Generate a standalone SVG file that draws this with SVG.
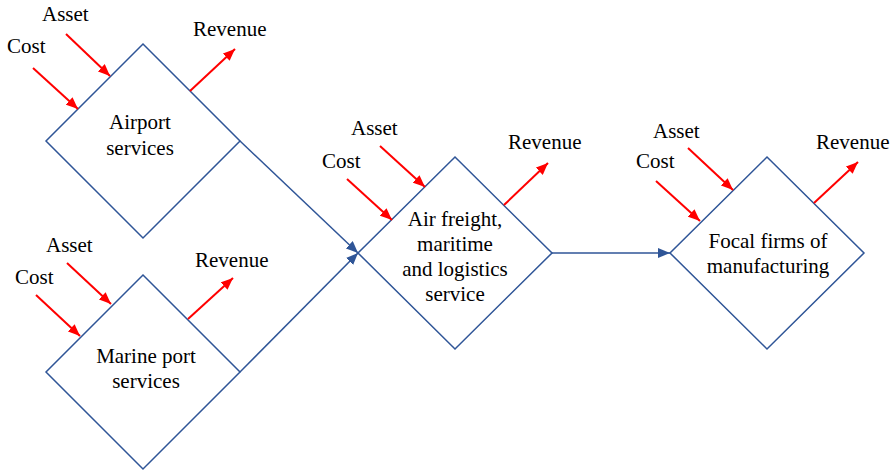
<svg xmlns="http://www.w3.org/2000/svg" width="896" height="472" viewBox="0 0 896 472" font-family="'Liberation Serif', 'DejaVu Serif', serif" font-size="21">
  <style>
    .box { fill: #ffffff; stroke: #2F5597; stroke-width: 1.5; }
    .flow { fill: none; stroke: #2F5597; stroke-width: 1.5; marker-end: url(#blueHead); }
    .io { fill: none; stroke: #FF0000; stroke-width: 2; marker-end: url(#redHead); }
    text { font-family: 'Liberation Serif', 'DejaVu Serif', serif; font-size: 21px; fill: #000000; }
    .c { text-anchor: middle; }
  </style>
  <defs>
    <marker id="redHead" viewBox="0 0 12 10" refX="12" refY="5" markerWidth="12" markerHeight="10" markerUnits="userSpaceOnUse" orient="auto">
      <path d="M0,0 L12,5 L0,10 z" fill="#FF0000"/>
    </marker>
    <marker id="blueHead" viewBox="0 0 12 10" refX="12" refY="5" markerWidth="12" markerHeight="10" markerUnits="userSpaceOnUse" orient="auto">
      <path d="M0,0 L12,5 L0,10 z" fill="#2F5597"/>
    </marker>
  </defs>

  <rect x="0" y="0" width="896" height="472" fill="#ffffff"/>

  <!-- flows between nodes -->
  <g id="connectors">
    <path class="flow" d="M240,141 L358,253"/>
    <path class="flow" d="M240,372 L358,253"/>
    <path class="flow" d="M552,253 L670,253"/>
  </g>

  <g id="airport">
    <polygon class="box" points="143,44 240,141 143,238 46,141"/>
    <text class="c" x="140" y="129">Airport</text>
    <text class="c" x="140" y="155">services</text>
    <text x="42" y="21">Asset</text>
    <text x="7" y="53">Cost</text>
    <text x="193" y="36">Revenue</text>
    <path class="io" d="M66,34 L110,76"/>
    <path class="io" d="M33,68 L78,109"/>
    <path class="io" d="M190,91 L235,49"/>
  </g>

  <g id="marine-port">
    <polygon class="box" points="143,275 240,372 143,469 46,372"/>
    <text class="c" x="146" y="363">Marine port</text>
    <text class="c" x="146" y="388">services</text>
    <text x="46" y="252">Asset</text>
    <text x="15" y="284">Cost</text>
    <text x="195" y="267">Revenue</text>
    <path class="io" d="M67,263 L111,304"/>
    <path class="io" d="M36,295 L80,336"/>
    <path class="io" d="M188,319 L233,278"/>
  </g>

  <g id="logistics">
    <polygon class="box" points="455,157 552,253 455,349 358,253"/>
    <text class="c" x="455" y="226">Air freight,</text>
    <text class="c" x="455" y="251">maritime</text>
    <text class="c" x="455" y="276">and logistics</text>
    <text class="c" x="455" y="301">service</text>
    <text x="351" y="135">Asset</text>
    <text x="322" y="168">Cost</text>
    <text x="508" y="149">Revenue</text>
    <path class="io" d="M380,146 L425,187"/>
    <path class="io" d="M347,179 L392,220"/>
    <path class="io" d="M504,205 L548,163"/>
  </g>

  <g id="manufacturing">
    <polygon class="box" points="767,157 864,253 767,349 670,253"/>
    <text class="c" x="768" y="248">Focal firms of</text>
    <text class="c" x="768" y="273">manufacturing</text>
    <text x="653" y="138">Asset</text>
    <text x="636" y="168">Cost</text>
    <text x="816" y="149">Revenue</text>
    <path class="io" d="M688,148 L733,190"/>
    <path class="io" d="M656,181 L700,221"/>
    <path class="io" d="M814,203 L858,162"/>
  </g>
</svg>
